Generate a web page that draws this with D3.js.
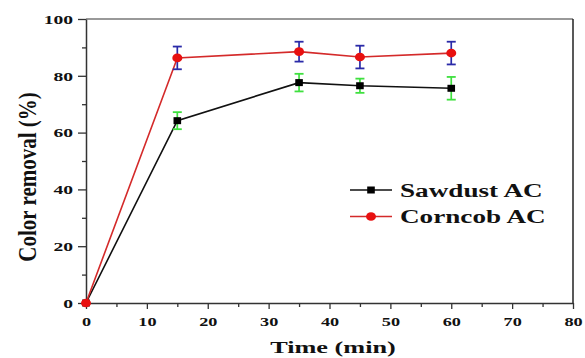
<!DOCTYPE html>
<html>
<head>
<meta charset="utf-8">
<script src="https://cdn.jsdelivr.net/npm/d3@7"></script>
<style>
  html, body { margin: 0; padding: 0; background: #fff; }
  svg text { font-family: "Liberation Serif", "Times New Roman", Tinos, "DejaVu Serif", serif; font-weight: bold; fill: #111; }
</style>
</head>
<body>
<svg id="chart" width="585" height="358"></svg>
<script>
// Contact time (min) and colour removal (%) with standard deviations
const times = [0, 15, 35, 45, 60];
const sawdust = [0, 64.2, 77.6, 76.5, 75.6];
const sawdustErr = [0, 3.0, 3.1, 2.5, 4.0];
const corncob = [0, 86.3, 88.5, 86.6, 88.0];
const corncobErr = [0, 4.0, 3.5, 4.0, 4.0];
const xTicks = [0, 10, 20, 30, 40, 50, 60, 70, 80];
const yTicks = [0, 20, 40, 60, 80, 100];
const seriesNames = ["Sawdust AC", "Corncob AC"];

const FONT = '"Liberation Serif", "Times New Roman", Tinos, "DejaVu Serif", serif';
const svg = d3.select("#chart");
const plotL = 86, plotR = 573, plotT = 19, plotB = 303;

const x = d3.scaleLinear().domain([0, 80]).range([plotL, plotR]);
const y = d3.scaleLinear().domain([0, 100]).range([plotB, plotT]);

// widen a text horizontally about its anchor x
function widen(sel, k) {
  sel.each(function () {
    const t = d3.select(this);
    const ax = +t.attr("x") || 0;
    t.attr("transform", `translate(${ax},0) scale(${k},1) translate(${-ax},0)`);
  });
}

// frame: top and right edges
svg.append("line").attr("x1", plotL).attr("x2", plotR).attr("y1", plotT).attr("y2", plotT)
  .attr("stroke", "#777").attr("stroke-width", 1.5);
svg.append("line").attr("x1", plotR).attr("x2", plotR).attr("y1", plotT).attr("y2", plotB)
  .attr("stroke", "#222").attr("stroke-width", 1.5);

// minor ticks
const xMinor = d3.range(5, 80, 10);
const yMinor = d3.range(10, 100, 20);
svg.append("g").attr("transform", `translate(0,${plotB})`)
  .call(d3.axisBottom(x).tickValues(xMinor).tickSize(4).tickFormat(""))
  .call(g => g.select(".domain").remove())
  .call(g => g.selectAll("line").attr("stroke", "#333").attr("stroke-width", 1.3));
svg.append("g").attr("transform", `translate(${plotL},0)`)
  .call(d3.axisLeft(y).tickValues(yMinor).tickSize(4).tickFormat(""))
  .call(g => g.select(".domain").remove())
  .call(g => g.selectAll("line").attr("stroke", "#333").attr("stroke-width", 1.3));

// major axes
const xAxis = svg.append("g").attr("transform", `translate(0,${plotB})`)
  .call(d3.axisBottom(x).tickValues(xTicks).tickSize(6).tickSizeOuter(0).tickPadding(7));
const yAxis = svg.append("g").attr("transform", `translate(${plotL},0)`)
  .call(d3.axisLeft(y).tickValues(yTicks).tickSize(8).tickSizeOuter(0).tickPadding(5));
[xAxis, yAxis].forEach(g => {
  g.attr("font-family", null);
  g.select(".domain").attr("stroke", "#333").attr("stroke-width", 1.5);
  g.selectAll(".tick line").attr("stroke", "#333").attr("stroke-width", 1.3);
  g.selectAll(".tick text").attr("fill", "#111").style("font-size", "13.5px")
    .style("font-family", FONT).style("font-weight", "bold");
});
widen(xAxis.selectAll(".tick text"), 1.35);
widen(yAxis.selectAll(".tick text"), 1.45);

// axis titles
const xTitle = svg.append("text").attr("x", 333).attr("y", 353)
  .attr("text-anchor", "middle").style("font-size", "17.5px")
  .text("Time (min)");
widen(xTitle, 1.5);
svg.append("g").attr("transform", "translate(36,177) scale(1.22,1)")
  .append("text").attr("transform", "rotate(-90)")
  .attr("text-anchor", "middle").style("font-size", "21px")
  .text("Color removal (%)");

const series = [
  { name: seriesNames[0], vals: sawdust, err: sawdustErr, line: "#111", marker: "square", fill: "#000", errColor: "#3fe03f" },
  { name: seriesNames[1], vals: corncob, err: corncobErr, line: "#d42a2a", marker: "circle", fill: "#e81010", errColor: "#2a2aa8" }
];

const lineGen = d3.line().x(d => x(d[0])).y(d => y(d[1]));

function marker(g, s, cx, cy) {
  if (s.marker === "square") {
    g.append("rect").attr("x", cx - 3.8).attr("y", cy - 3.5)
      .attr("width", 7.6).attr("height", 7).attr("fill", s.fill);
  } else {
    g.append("ellipse").attr("cx", cx).attr("cy", cy).attr("rx", 5).attr("ry", 4.3)
      .attr("fill", s.fill);
  }
}

series.forEach(s => {
  const pts = times.map((t, i) => [t, s.vals[i], s.err[i]]);
  svg.append("path").datum(pts).attr("d", lineGen)
    .attr("fill", "none").attr("stroke", s.line).attr("stroke-width", 1.6);

  // error bars
  const eb = svg.append("g");
  pts.filter(p => p[2] > 0).forEach(p => {
    const cx = x(p[0]), y1 = y(p[1] + p[2]), y2 = y(p[1] - p[2]);
    eb.append("line").attr("x1", cx).attr("x2", cx).attr("y1", y1).attr("y2", y2)
      .attr("stroke", s.errColor).attr("stroke-width", 1.7);
    [y1, y2].forEach(yy => eb.append("line").attr("x1", cx - 4.5).attr("x2", cx + 4.5)
      .attr("y1", yy).attr("y2", yy).attr("stroke", s.errColor).attr("stroke-width", 1.8));
  });

  // markers
  const mg = svg.append("g");
  pts.forEach(p => marker(mg, s, x(p[0]), y(p[1])));
});

// legend
series.forEach((s, i) => {
  const ly = 190 + i * 26.5;
  const g = svg.append("g");
  g.append("line").attr("x1", 350).attr("x2", 392).attr("y1", ly).attr("y2", ly)
    .attr("stroke", s.line).attr("stroke-width", 1.6);
  marker(g, s, 371, ly);
  const t = g.append("text").attr("x", 400).attr("y", ly + 6.8)
    .style("font-size", "19px").text(s.name);
  widen(t, 1.43);
});
</script>
</body>
</html>
